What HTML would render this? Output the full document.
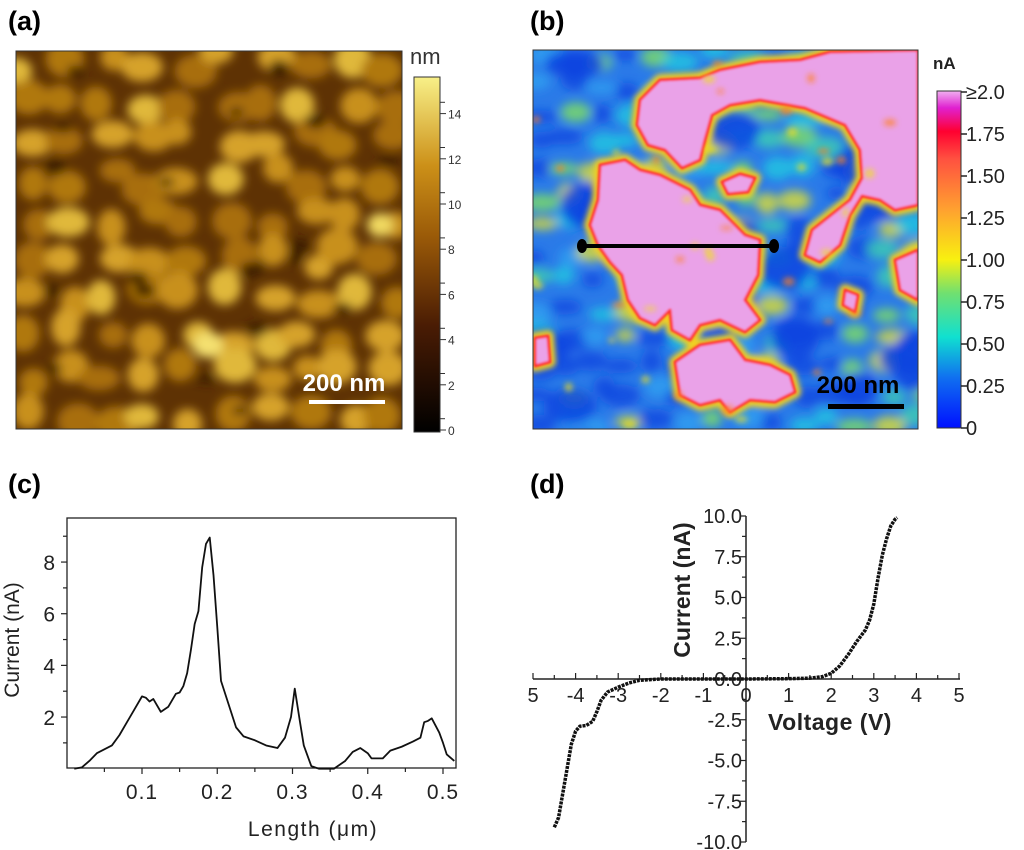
<!DOCTYPE html>
<html><head><meta charset="utf-8"><style>
body{margin:0;background:#fff;}
svg{display:block;font-family:"Liberation Sans",sans-serif;}
</style></head><body>
<svg id="fig" width="1024" height="850" viewBox="0 0 1024 850" xmlns="http://www.w3.org/2000/svg">
<defs>
<filter id="blur6" x="-50%" y="-50%" width="200%" height="200%"><feGaussianBlur stdDeviation="5"/></filter>
<filter id="blur3" x="-20%" y="-20%" width="140%" height="140%"><feGaussianBlur stdDeviation="3"/></filter>
<filter id="blur1"><feGaussianBlur stdDeviation="1"/></filter>
<clipPath id="clipA"><rect x="16" y="51" width="386" height="378"/></clipPath>
<clipPath id="clipB"><rect x="533" y="50" width="385" height="379"/></clipPath>
<linearGradient id="cbA" x1="0" y1="1" x2="0" y2="0">
<stop offset="0" stop-color="#000"/><stop offset="0.3" stop-color="#4a1c04"/><stop offset="0.55" stop-color="#9a5a08"/><stop offset="0.75" stop-color="#cc9018"/><stop offset="1" stop-color="#f8f088"/></linearGradient>
<linearGradient id="cbB" x1="0" y1="1" x2="0" y2="0">
<stop offset="0" stop-color="#0010ff"/><stop offset="0.15" stop-color="#1070f0"/><stop offset="0.27" stop-color="#10e0d0"/><stop offset="0.4" stop-color="#70e070"/><stop offset="0.5" stop-color="#f8f010"/><stop offset="0.65" stop-color="#ffa030"/><stop offset="0.8" stop-color="#ff5040"/><stop offset="0.88" stop-color="#ff0030"/><stop offset="0.95" stop-color="#e020d0"/><stop offset="1" stop-color="#f0b0f0"/></linearGradient>
</defs>

<text x="8" y="30" font-size="27" font-weight="bold">(a)</text>
<text x="530" y="30" font-size="27" font-weight="bold">(b)</text>
<text x="8" y="493" font-size="27" font-weight="bold">(c)</text>
<text x="530" y="493" font-size="27" font-weight="bold">(d)</text>

<!-- Panel A: topography -->
<g clip-path="url(#clipA)">
<rect x="16" y="51" width="386" height="378" fill="#5e3204"/>
<g id="blobsA" filter="url(#blur6)"></g>
</g>
<rect x="16" y="51" width="386" height="378" fill="none" stroke="#333" stroke-width="1"/>
<rect x="309" y="400" width="76" height="4" fill="#fff"/>
<text x="344" y="391" font-size="24" font-weight="bold" fill="#fff" text-anchor="middle">200 nm</text>
<text x="410" y="64" font-size="22" fill="#333">nm</text>
<rect x="414" y="77" width="26" height="355" fill="url(#cbA)" stroke="#333" stroke-width="1"/>
<g id="cbAticks" font-size="12" fill="#333"></g>

<!-- Panel B: current map -->
<g clip-path="url(#clipB)">
<rect x="533" y="50" width="385" height="379" fill="#2a7ae8"/>
<g id="blobsB" filter="url(#blur6)"></g>
<g id="pinkGlow" filter="url(#blur3)" stroke="#f0d020" stroke-width="12" fill="#f0d020" stroke-linejoin="round"></g>
<g id="pinkMain" filter="url(#blur1)" stroke="#ff3030" stroke-width="3" fill="#eaa2e8" stroke-linejoin="round"></g>
<g id="blobsB2" filter="url(#blur3)"></g>
<line x1="582" y1="246" x2="774" y2="246" stroke="#000" stroke-width="4"/>
<ellipse cx="582" cy="246" rx="5" ry="7" fill="#000"/>
<ellipse cx="774" cy="246" rx="5" ry="7" fill="#000"/>
</g>
<rect x="533" y="50" width="385" height="379" fill="none" stroke="#333" stroke-width="1"/>
<rect x="828" y="404" width="76" height="5" fill="#000"/>
<text x="858" y="393" font-size="24" font-weight="bold" fill="#000" text-anchor="middle">200 nm</text>
<text x="933" y="69" font-size="17" font-weight="bold" fill="#222">nA</text>
<rect x="937" y="91" width="24" height="337" fill="url(#cbB)" stroke="#333" stroke-width="1"/>
<g id="cbBticks" font-size="20" fill="#222"></g>

<!-- Panel C -->
<g id="chartC"></g>
<!-- Panel D -->
<g id="chartD"></g>
</svg>
<script>
// ---- Panel C data ----
const lengthVals = [0.01,0.02,0.03,0.04,0.05,0.06,0.07,0.08,0.09,0.1,0.105,0.11,0.115,0.125,0.135,0.145,0.15,0.155,0.16,0.165,0.17,0.175,0.18,0.185,0.19,0.195,0.2,0.205,0.215,0.225,0.235,0.25,0.265,0.28,0.29,0.298,0.303,0.31,0.315,0.325,0.335,0.355,0.37,0.38,0.39,0.4,0.405,0.42,0.43,0.445,0.46,0.47,0.475,0.48,0.485,0.495,0.5,0.505,0.515];
const currentVals = [0,0.05,0.3,0.6,0.75,0.9,1.3,1.8,2.3,2.8,2.75,2.6,2.7,2.2,2.4,2.9,2.95,3.2,3.7,4.6,5.6,6.1,7.8,8.7,8.95,7.5,5.5,3.4,2.5,1.6,1.25,1.1,0.9,0.8,1.2,2.0,3.1,1.8,0.9,0.1,0,0,0.3,0.65,0.8,0.6,0.4,0.4,0.7,0.85,1.05,1.2,1.8,1.85,1.95,1.4,1.0,0.55,0.3];
const cXTicks = [0.1,0.2,0.3,0.4,0.5];
const cXTickLabels = ["0.1","0.2","0.3","0.4","0.5"];
const cYTicks = [2,4,6,8];
const cYTickLabels = ["2","4","6","8"];
// ---- Panel D data ----
const voltageVals = [-4.5,-4.4,-4.3,-4.2,-4.1,-4.0,-3.9,-3.75,-3.6,-3.5,-3.4,-3.25,-3.0,-2.75,-2.5,-2.0,-1.0,0,1.0,1.5,1.8,2.0,2.2,2.4,2.6,2.8,2.9,3.0,3.1,3.2,3.3,3.4,3.5,3.55];
const ivCurrentVals = [-9.1,-8.5,-7,-5.5,-4,-3.2,-2.9,-2.85,-2.6,-2.0,-1.3,-0.8,-0.5,-0.25,-0.08,0,0,0,0.02,0.05,0.15,0.35,0.8,1.5,2.3,3.0,3.6,4.6,6.2,7.6,8.6,9.4,9.8,9.9];
const dXTicks = [-5,-4,-3,-2,-1,0,1,2,3,4,5];
const dXTickLabels = ["5","-4","-3","-2","-1","0","1","2","3","4","5"];
const dYTicks = [-10,-7.5,-5,-2.5,0,2.5,5,7.5,10];
const dYTickLabels = ["-10.0","-7.5","-5.0","-2.5","0.0","2.5","5.0","7.5","10.0"];
// ---- Colorbar ticks ----
const cbATicks = [0,2,4,6,8,10,12,14];
const cbBTicks = [0,0.25,0.5,0.75,1.0,1.25,1.5,1.75,2.0];
const cbBLabels = ["0","0.25","0.50","0.75","1.00","1.25","1.50","1.75","≥2.0"];

const NS="http://www.w3.org/2000/svg";
function mk(tag, attrs, parent){const e=document.createElementNS(NS,tag);for(const k in attrs)e.setAttribute(k,attrs[k]);parent.appendChild(e);return e;}

// Panel C axes
const cx = v => 66.75 + v*752.5;
const cy = v => 768.7 - v*25.83;
const gC=document.getElementById('chartC');
let r=mk('rect',{x:67,y:518,width:389,height:250,fill:'none',stroke:'#222','stroke-width':1.3},gC);


for(let v=0.05;v<0.52;v+=0.05){const maj=Math.abs(v*10-Math.round(v*10))<0.01;mk('line',{x1:cx(v),x2:cx(v),y1:768,y2:768+(maj?6:4),stroke:'#222','stroke-width':1.2},gC);}
for(let v=1;v<=9;v++){mk('line',{x1:67,x2:67-(v%2?4:6),y1:cy(v),y2:cy(v),stroke:'#222','stroke-width':1.2},gC);}
cXTicks.forEach((v,i)=>{const t=mk('text',{x:cx(v),y:799,'font-size':21,'text-anchor':'middle',fill:'#222','letter-spacing':'1'},gC);t.textContent=cXTickLabels[i];

});
cYTicks.forEach((v,i)=>{const t=mk('text',{x:55,y:cy(v)+8,'font-size':21,'text-anchor':'end',fill:'#222'},gC);t.textContent=cYTickLabels[i];

});
let t=mk('text',{x:313,y:836,'font-size':21,'text-anchor':'middle',fill:'#222','letter-spacing':'1.5'},gC);t.textContent='Length (μm)';


t=mk('text',{x:0,y:0,'font-size':21,'text-anchor':'middle',fill:'#222',transform:'translate(19,640) rotate(-90)'},gC);t.textContent='Current (nA)';


let p=mk('polyline',{points:lengthVals.map((v,i)=>cx(v)+','+cy(currentVals[i])).join(' '),fill:'none',stroke:'#111','stroke-width':1.8,'stroke-linejoin':'round'},gC);



// Panel D axes
const dx = v => 746 + v*42.6;
const dy = v => 679 - v*16.3;
const gD=document.getElementById('chartD');
mk('line',{x1:533,x2:960,y1:679,y2:679,stroke:'#222','stroke-width':1.5},gD);
mk('line',{x1:746,x2:746,y1:516,y2:842,stroke:'#222','stroke-width':1.5},gD);
for(let v=-5;v<=5.01;v+=0.5){const maj=Math.abs(v-Math.round(v))<0.01;mk('line',{x1:dx(v),x2:dx(v),y1:679,y2:679-(maj?6:4),stroke:'#222','stroke-width':1.2},gD);}
for(let v=-10;v<=10.01;v+=1.25){const maj=Math.abs(v/2.5-Math.round(v/2.5))<0.01;mk('line',{x1:746,x2:746-(maj?6:4),y1:dy(v),y2:dy(v),stroke:'#222','stroke-width':1.2},gD);}
dXTicks.forEach((v,i)=>{const tt=mk('text',{x:dx(v),y:702,'font-size':20,'text-anchor':'middle',fill:'#222'},gD);tt.textContent=dXTickLabels[i];

});
dYTicks.forEach((v,i)=>{const tt=mk('text',{x:742,y:dy(v)+7,'font-size':20,'text-anchor':'end',fill:'#222'},gD);tt.textContent=dYTickLabels[i];

});
t=mk('text',{x:830,y:730,'font-size':23,'font-weight':'bold','text-anchor':'middle',fill:'#222','letter-spacing':'0.5'},gD);t.textContent='Voltage (V)';


t=mk('text',{x:0,y:0,'font-size':23,'font-weight':'bold','text-anchor':'middle',fill:'#222',transform:'translate(690,590) rotate(-90)'},gD);t.textContent='Current (nA)';


p=mk('polyline',{points:voltageVals.map((v,i)=>dx(v)+','+dy(ivCurrentVals[i])).join(' '),fill:'none',stroke:'#111','stroke-width':3.5,'stroke-dasharray':'3 1','stroke-linejoin':'round'},gD);



// Colorbar ticks
const gA=document.getElementById('cbAticks');
cbATicks.forEach(v=>{const y=430-v*22.6;mk('line',{x1:440,x2:446,y1:y,y2:y,stroke:'#333'},gA);mk('line',{x1:440,x2:445,y1:y-11.3,y2:y-11.3,stroke:'#333'},gA);
const tt=mk('text',{x:448,y:y+5},gA);tt.textContent=String(v);

});
const gB=document.getElementById('cbBticks');
cbBTicks.forEach((v,i)=>{const y=428-v*168;mk('line',{x1:961,x2:967,y1:y,y2:y,stroke:'#222','stroke-width':1.5},gB);
const tt=mk('text',{x:966,y:y+7},gB);tt.textContent=cbBLabels[i];

});

// texture (decorative, deterministic)
let seed=7;function rnd(){seed=(seed*16807)%2147483647;return seed/2147483647;}
const bA=document.getElementById('blobsA');
const colsA=['#c8901c','#d6a22a','#b07810','#e0b83a','#a86e0c'];
for(let gx=0;gx<10;gx++)for(let gy=0;gy<10;gy++){
mk('ellipse',{cx:16+gx*40+rnd()*24,cy:51+gy*39+rnd()*22,rx:14+rnd()*8,ry:12+rnd()*7,fill:colsA[Math.floor(rnd()*5)]},bA);}
for(let i=0;i<20;i++){mk('ellipse',{cx:16+rnd()*386,cy:51+rnd()*378,rx:6+rnd()*6,ry:4+rnd()*4,fill:'#3a1a02'},bA);}
mk('ellipse',{cx:208,cy:345,rx:15,ry:13,fill:'#f4e070'},bA);
mk('ellipse',{cx:380,cy:225,rx:13,ry:12,fill:'#f0d860'},bA);

const bB=document.getElementById('blobsB');
const colsB=['#20c8e0','#40d0b0','#80e060','#30a0f0','#e0e030'];
for(let gx=0;gx<14;gx++)for(let gy=0;gy<14;gy++){
const c=rnd()<0.35?'#1048e0':colsB[Math.floor(rnd()*5)];
mk('ellipse',{cx:533+gx*29+rnd()*14,cy:50+gy*28+rnd()*14,rx:10+rnd()*10,ry:6+rnd()*6,fill:c,opacity:0.8},bB);}
for(let i=0;i<22;i++){mk('ellipse',{cx:533+rnd()*385,cy:50+rnd()*379,rx:18+rnd()*14,ry:14+rnd()*10,fill:'#0c44e0',opacity:0.85},bB);}

const pinkPaths=["M640,100 L660,80 L700,78 L720,70 L760,62 L800,60 L830,52 L918,50 L918,205 L895,210 L880,200 L862,196 L850,215 L840,245 L820,262 L805,255 L812,230 L850,200 L862,178 L860,150 L845,125 L805,108 L760,100 L730,105 L712,115 L705,140 L700,160 L682,168 L665,150 L648,145 L637,125 Z",
"M600,165 L625,160 L640,170 L660,175 L690,190 L700,205 L720,210 L745,235 L760,240 L758,275 L745,300 L760,320 L745,332 L720,320 L700,325 L690,340 L672,330 L670,310 L655,325 L640,318 L628,300 L622,275 L610,262 L598,245 L590,225 L598,200 Z",
"M675,362 L700,345 L730,340 L745,360 L770,365 L790,375 L795,392 L775,402 L750,400 L730,412 L720,400 L700,405 L680,395 Z",
"M535,338 L548,336 L550,362 L535,366 Z",
"M722,182 L740,174 L755,178 L748,192 L728,194 Z",
"M895,260 L918,250 L918,300 L900,290 Z",
"M845,290 L858,295 L855,312 L843,305 Z"];
const pg=document.getElementById('pinkGlow'),pm=document.getElementById('pinkMain');
pinkPaths.forEach(d=>{mk('path',{d:d},pg);mk('path',{d:d},pm);});
const bB2=document.getElementById('blobsB2');
for(let i=0;i<40;i++){mk('ellipse',{cx:533+rnd()*385,cy:50+rnd()*379,rx:3+rnd()*4,ry:2+rnd()*3,fill:rnd()<0.5?'#ff8020':'#f0e020',opacity:0.7},bB2);}
</script>
</body></html>
